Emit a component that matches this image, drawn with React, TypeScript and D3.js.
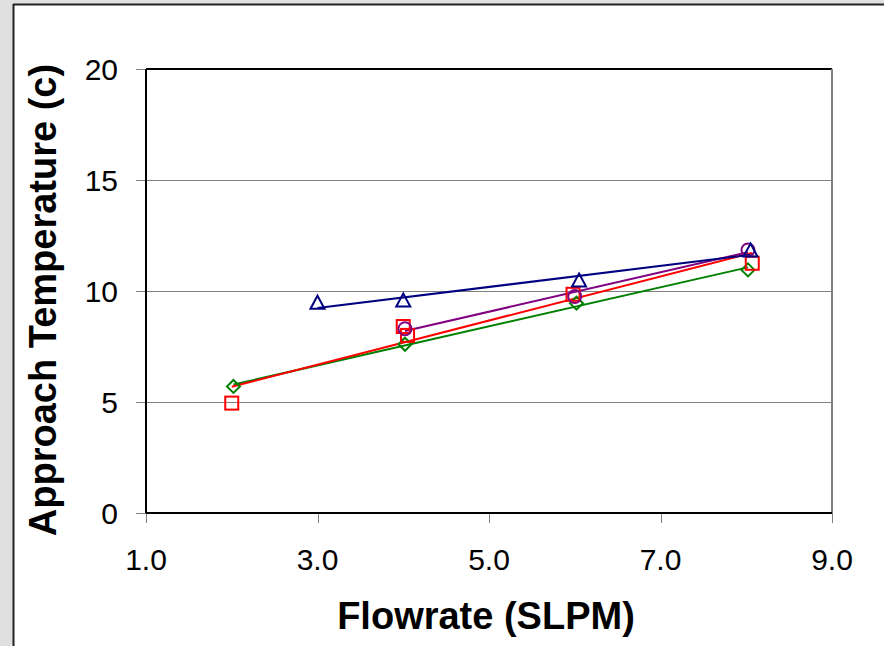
import * as d3 from 'd3'

// flowrate (SLPM) / approach temperature (c) for each marker series
const triX = [3.0, 4.0, 6.05, 8.05]
const triY = [9.45, 9.55, 10.45, 11.8]
const squareX = [2.0, 4.0, 4.05, 5.98, 8.07]
const squareY = [4.95, 8.4, 8.0, 9.85, 11.25]
const circleX = [4.02, 6.0, 8.02]
const circleY = [8.3, 9.75, 11.85]
const diamondX = [2.02, 4.02, 6.02, 8.02]
const diamondY = [5.7, 7.6, 9.45, 10.95]

const xTicks = [1, 3, 5, 7, 9]
const yTicks = [0, 5, 10, 15, 20]

const width = 884
const height = 646
const left = 146
const right = 832
const top = 69
const bottom = 513

const x = d3.scaleLinear([1, 9], [left, right])
const y = d3.scaleLinear([0, 20], [bottom, top])
const crisp = (v: number) => Math.round(v) + 0.5

const series = [
  { xs: diamondX, ys: diamondY, color: '#008000', shape: 'diamond' },
  { xs: squareX, ys: squareY, color: '#ff0000', shape: 'square' },
  { xs: circleX, ys: circleY, color: '#800080', shape: 'circle' },
  { xs: triX, ys: triY, color: '#000080', shape: 'triangle' },
]

// linear least-squares trendline over the series' x range
function trend(xs: number[], ys: number[]) {
  const mx = d3.mean(xs)!
  const my = d3.mean(ys)!
  const sxy = d3.sum(xs, (v, i) => (v - mx) * (ys[i] - my))
  const sxx = d3.sum(xs, v => (v - mx) ** 2)
  const b = sxy / sxx
  const a = my - b * mx
  const [x0, x1] = d3.extent(xs) as [number, number]
  return [[x0, a + b * x0], [x1, a + b * x1]]
}

const line = d3.line<number[]>().x(d => x(d[0])).y(d => y(d[1]))

function Marker({ cx, cy, shape, color }: { cx: number; cy: number; shape: string; color: string }) {
  const p = { fill: 'none', stroke: color, strokeWidth: 2 }
  if (shape === 'square') return <rect x={cx - 6.5} y={cy - 6.5} width={13} height={13} {...p} />
  if (shape === 'circle') return <circle cx={cx} cy={cy} r={6.5} {...p} />
  if (shape === 'diamond') return <path d={`M${cx},${cy - 6.5}L${cx + 6.5},${cy}L${cx},${cy + 6.5}L${cx - 6.5},${cy}Z`} {...p} />
  return <path d={`M${cx},${cy - 7.5}L${cx + 7},${cy + 5.5}L${cx - 7},${cy + 5.5}Z`} {...p} />
}

export default function App() {
  const font = 'Liberation Sans, Arial, sans-serif'
  return (
    <svg width={width} height={height} style={{ position: 'absolute', left: 0, top: 0 }} fontFamily={font}>
      <rect x={0} y={0} width={width} height={height} fill="#e0e0e0" />
      <rect x={14} y={5} width={width} height={height} fill="#fff" />
      <line x1={13} x2={width} y1={4.5} y2={4.5} stroke="#222" strokeWidth={2} />
      <line x1={13.5} x2={13.5} y1={4} y2={height} stroke="#222" strokeWidth={2} />

      {yTicks.filter(t => t > 0 && t < 20).map(t => (
        <line key={t} x1={left} x2={right} y1={crisp(y(t))} y2={crisp(y(t))} stroke="#808080" strokeWidth={1} />
      ))}
      <line x1={left} x2={right} y1={top} y2={top} stroke="#000" strokeWidth={2} />
      <line x1={right} x2={right} y1={top} y2={bottom} stroke="#808080" strokeWidth={2} />

      {yTicks.map(t => (
        <g key={t}>
          <line x1={left - 10} x2={left} y1={crisp(y(t))} y2={crisp(y(t))} stroke="#808080" />
          <text x={118} y={y(t)} dy="0.36em" textAnchor="end" fontSize={30}>{t}</text>
        </g>
      ))}
      {xTicks.map(t => (
        <g key={t}>
          <line x1={crisp(x(t))} x2={crisp(x(t))} y1={bottom} y2={bottom + 10} stroke="#808080" />
          <text x={x(t)} y={570} textAnchor="middle" fontSize={30}>{t.toFixed(1)}</text>
        </g>
      ))}
      <line x1={left} x2={left} y1={top} y2={bottom} stroke="#000" strokeWidth={2} />
      <line x1={left} x2={right} y1={bottom} y2={bottom} stroke="#000" strokeWidth={2} />

      {series.map((s, i) => (
        <path key={i} d={line(trend(s.xs, s.ys))!} fill="none" stroke={s.color} strokeWidth={2} />
      ))}
      {series.map((s, i) => (
        <g key={i}>
          {s.xs.map((v, j) => (
            <Marker key={j} cx={x(v)} cy={y(s.ys[j])} shape={s.shape} color={s.color} />
          ))}
        </g>
      ))}

      <text x={486} y={629} textAnchor="middle" fontSize={38} fontWeight="bold">Flowrate (SLPM)</text>
      <text transform={`translate(56,${(top + bottom) / 2 + 9}) rotate(-90)`} textAnchor="middle" fontSize={38} fontWeight="bold">
        Approach Temperature (c)
      </text>
    </svg>
  )
}
